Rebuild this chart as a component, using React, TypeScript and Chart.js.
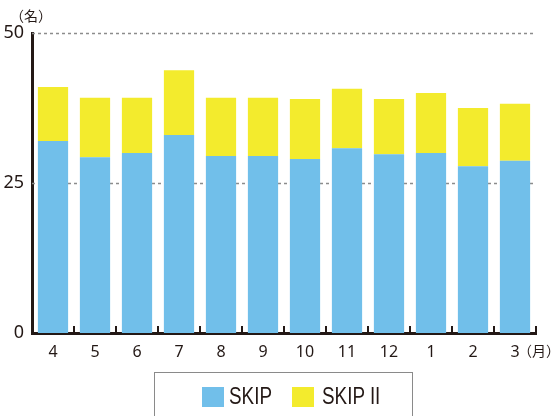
import React, { useEffect, useRef } from "react";
import { Chart, registerables } from "chart.js";

Chart.register(...registerables);

const months = ["4", "5", "6", "7", "8", "9", "10", "11", "12", "1", "2", "3"];
const skipValues = [32, 29.3, 30, 33, 29.5, 29.5, 29, 30.8, 29.8, 30, 27.8, 28.7];
const skip2Values = [9, 9.9, 9.2, 10.8, 9.7, 9.7, 10, 9.9, 9.2, 10, 9.7, 9.5];
const yTickValues = [0, 25, 50];
const gridValues = [25, 50];
const seriesNames = ["SKIP", "SKIP II"];
const yUnit = "（名）";
const xUnit = "（月）";

const BLUE = "#71bfea";
const YELLOW = "#f3eb2d";
const INK = "#231815";
const FONT = '"Noto Sans", sans-serif';
const LEGEND_FONT = '"Liberation Sans", Arial, sans-serif';
const CJK = '"Noto Sans CJK JP", sans-serif';

const decorPlugin = {
  id: "decor",
  beforeDatasetsDraw(chart: any) {
    const { ctx, chartArea, scales } = chart;
    ctx.save();
    ctx.strokeStyle = "#8c8c8c";
    ctx.lineWidth = 1.5;
    ctx.setLineDash([3, 3]);
    gridValues.forEach((v) => {
      const y = Math.round(scales.y.getPixelForValue(v)) + 0.5;
      ctx.beginPath();
      ctx.moveTo(chartArea.left, y);
      ctx.lineTo(chartArea.right, y);
      ctx.stroke();
    });
    ctx.restore();
  },
  afterDraw(chart: any) {
    const { ctx, chartArea, scales } = chart;
    ctx.save();
    const n = months.length;
    const w = (chartArea.right - chartArea.left) / n;
    ctx.strokeStyle = INK;
    ctx.lineWidth = 2;
    for (let i = 1; i <= n; i++) {
      const x = chartArea.left + i * w;
      ctx.beginPath();
      ctx.moveTo(x, chartArea.bottom);
      ctx.lineTo(x, chartArea.bottom - 7);
      ctx.stroke();
    }
    ctx.fillStyle = INK;
    ctx.font = `14px ${CJK}`;
    ctx.textBaseline = "middle";
    ctx.textAlign = "left";
    ctx.fillText(yUnit, 10, 16);
    const lastX = scales.x.getPixelForValue(n - 1);
    ctx.fillText(xUnit, lastX + 3, 351);
    ctx.restore();
  },
};

export default function App() {
  const ref = useRef<HTMLCanvasElement | null>(null);
  useEffect(() => {
    const chart = new Chart(ref.current as HTMLCanvasElement, {
      type: "bar",
      data: {
        labels: months,
        datasets: [
          { label: seriesNames[0], data: skipValues, backgroundColor: BLUE, borderWidth: 0 },
          { label: seriesNames[1], data: skip2Values, backgroundColor: YELLOW, borderWidth: 0 },
        ],
      },
      options: {
        animation: false,
        responsive: false,
        devicePixelRatio: 1,
        layout: { padding: { left: 0, top: 33, right: 22, bottom: 53 } },
        plugins: { legend: { display: false }, tooltip: { enabled: false } },
        scales: {
          x: {
            stacked: true,
            grid: { display: false, drawTicks: false },
            border: { display: true, color: INK, width: 3 },
            categoryPercentage: 0.74,
            barPercentage: 1,
            ticks: { color: INK, font: { family: FONT, size: 16 }, padding: 10, maxRotation: 0 },
            afterFit(scale: any) {
              scale.height = 30;
            },
          },
          y: {
            stacked: true,
            min: 0,
            max: 50,
            afterBuildTicks(scale: any) {
              scale.ticks = yTickValues.map((v) => ({ value: v }));
            },
            grid: { display: false, drawTicks: false },
            border: { display: true, color: INK, width: 3 },
            ticks: { color: INK, font: { family: FONT, size: 18 }, padding: 8 },
            afterFit(scale: any) {
              scale.width = 32;
            },
          },
        },
      } as any,
      plugins: [decorPlugin],
    });
    return () => chart.destroy();
  }, []);

  const textStyle: React.CSSProperties = {
    position: "absolute",
    top: 10,
    lineHeight: "26px",
    transform: "scaleX(0.82)",
    transformOrigin: "left center",
    whiteSpace: "nowrap",
  };

  return (
    <div style={{ position: "absolute", left: 0, top: 0, width: 558, height: 416, background: "#fff", overflow: "hidden" }}>
      <canvas ref={ref} width={558} height={416} style={{ position: "absolute", left: 0, top: 0 }} />
      <div
        style={{
          position: "absolute",
          left: 154,
          top: 372,
          width: 259,
          height: 60,
          border: "1.5px solid #8a8a8a",
          boxSizing: "border-box",
          fontFamily: LEGEND_FONT,
          color: INK,
          fontSize: 23,
        }}
      >
        <div style={{ position: "absolute", left: 47, top: 14, width: 22, height: 20, background: BLUE }} />
        <div style={{ ...textStyle, left: 74 }}>{seriesNames[0]}</div>
        <div style={{ position: "absolute", left: 137, top: 14, width: 22, height: 20, background: YELLOW }} />
        <div style={{ ...textStyle, left: 167 }}>{seriesNames[1]}</div>
      </div>
    </div>
  );
}
